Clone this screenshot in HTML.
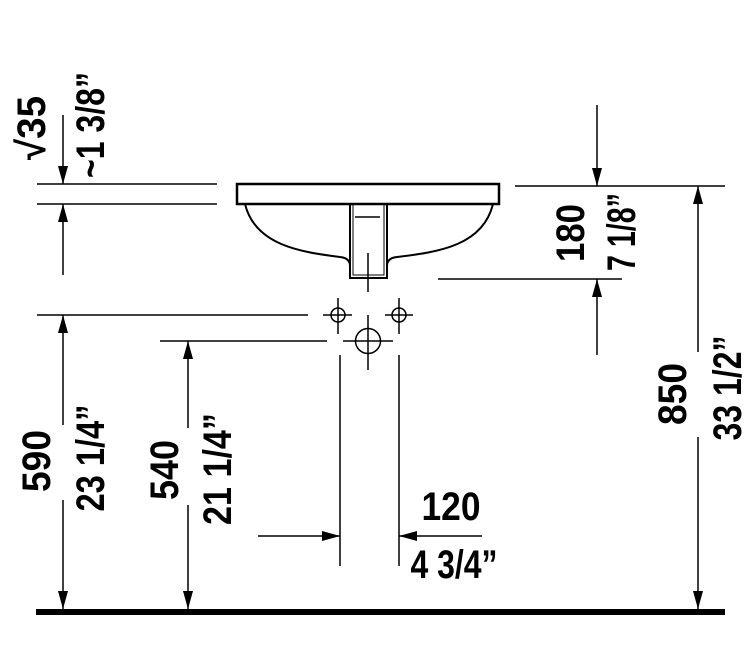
<!DOCTYPE html>
<html><head><meta charset="utf-8"><style>html,body{margin:0;padding:0;background:#fff}svg{display:block}</style></head>
<body>
<svg width="755" height="667" viewBox="0 0 755 667" xmlns="http://www.w3.org/2000/svg">
<defs>
<marker id="a" viewBox="0 0 18 10" refX="18" refY="5" markerWidth="18" markerHeight="10" markerUnits="userSpaceOnUse" orient="auto"><path d="M0,0 L18,5 L0,10 Z" fill="#000"/></marker>
</defs>
<g stroke="#000" stroke-width="1.5" fill="none">
<!-- sink -->
<rect x="237" y="184" width="262" height="20" stroke-width="2.5"/>
<path d="M245,204 C255,245 300,252 340,257 Q350,258 350,266 L350,278 L387,278 L387,266 Q387,258 397,257 C440,252 483,245 493,204" stroke-width="2"/>
<path d="M350,204 L350,278 M387,204 L387,278" stroke-width="2"/>
<path d="M353,204 L353,275 L384,275 L384,204" stroke-width="1"/>
<line x1="355" y1="217" x2="380" y2="217"/>
<line x1="368" y1="253" x2="368" y2="292"/>
<!-- holes -->
<circle cx="338" cy="315" r="7"/><path d="M323,315 H352 M338,298 V334"/>
<circle cx="399" cy="315" r="7"/><path d="M385,315 H413 M399,298 V334"/>
<circle cx="368" cy="341" r="12.5"/><path d="M343,341 H393 M368,315 V370"/>
<!-- extension lines -->
<path d="M37,184 H217 M37,204 H217 M515,186 H725 M438,279 H622 M37,315 H308 M160,341 H327"/>
<path d="M340,355 V566 M399,355 V566"/>
<!-- dims -->
<line x1="63" y1="115" x2="63" y2="184" marker-end="url(#a)"/>
<line x1="63" y1="275" x2="63" y2="204" marker-end="url(#a)"/>
<line x1="63" y1="425" x2="63" y2="315" marker-end="url(#a)"/>
<line x1="63" y1="500" x2="63" y2="609" marker-end="url(#a)"/>
<line x1="188" y1="428" x2="188" y2="341" marker-end="url(#a)"/>
<line x1="188" y1="505" x2="188" y2="609" marker-end="url(#a)"/>
<line x1="597" y1="105" x2="597" y2="186" marker-end="url(#a)"/>
<line x1="597" y1="355" x2="597" y2="279" marker-end="url(#a)"/>
<line x1="698" y1="352" x2="698" y2="186" marker-end="url(#a)"/>
<line x1="698" y1="437" x2="698" y2="609" marker-end="url(#a)"/>
<line x1="258" y1="536" x2="340" y2="536" marker-end="url(#a)"/>
<line x1="482" y1="536" x2="399" y2="536" marker-end="url(#a)"/>
</g>
<rect x="36" y="609" width="689" height="6" fill="#000"/>
<g font-family="Liberation Sans, sans-serif" font-weight="bold" fill="#000" font-size="40" text-anchor="middle">
<text transform="translate(45,128) rotate(-90)" textLength="64" lengthAdjust="spacingAndGlyphs">√35</text>
<text transform="translate(104,125) rotate(-90)" textLength="106" lengthAdjust="spacingAndGlyphs">~1 3/8”</text>
<text transform="translate(50,461) rotate(-90)" textLength="62" lengthAdjust="spacingAndGlyphs">590</text>
<text transform="translate(104,458) rotate(-90)" textLength="107" lengthAdjust="spacingAndGlyphs">23 1/4”</text>
<text transform="translate(178,470) rotate(-90)" textLength="60" lengthAdjust="spacingAndGlyphs">540</text>
<text transform="translate(231,469) rotate(-90)" textLength="112" lengthAdjust="spacingAndGlyphs">21 1/4”</text>
<text transform="translate(584,233) rotate(-90)" textLength="58" lengthAdjust="spacingAndGlyphs">180</text>
<text transform="translate(635,232) rotate(-90)" textLength="78" lengthAdjust="spacingAndGlyphs">7 1/8”</text>
<text transform="translate(686,394) rotate(-90)" textLength="62" lengthAdjust="spacingAndGlyphs">850</text>
<text transform="translate(741,388) rotate(-90)" textLength="105" lengthAdjust="spacingAndGlyphs">33 1/2”</text>
<text x="451" y="520" textLength="59" lengthAdjust="spacingAndGlyphs">120</text>
<text x="454" y="578" textLength="87" lengthAdjust="spacingAndGlyphs">4 3/4”</text>
</g>
</svg>
</body></html>
